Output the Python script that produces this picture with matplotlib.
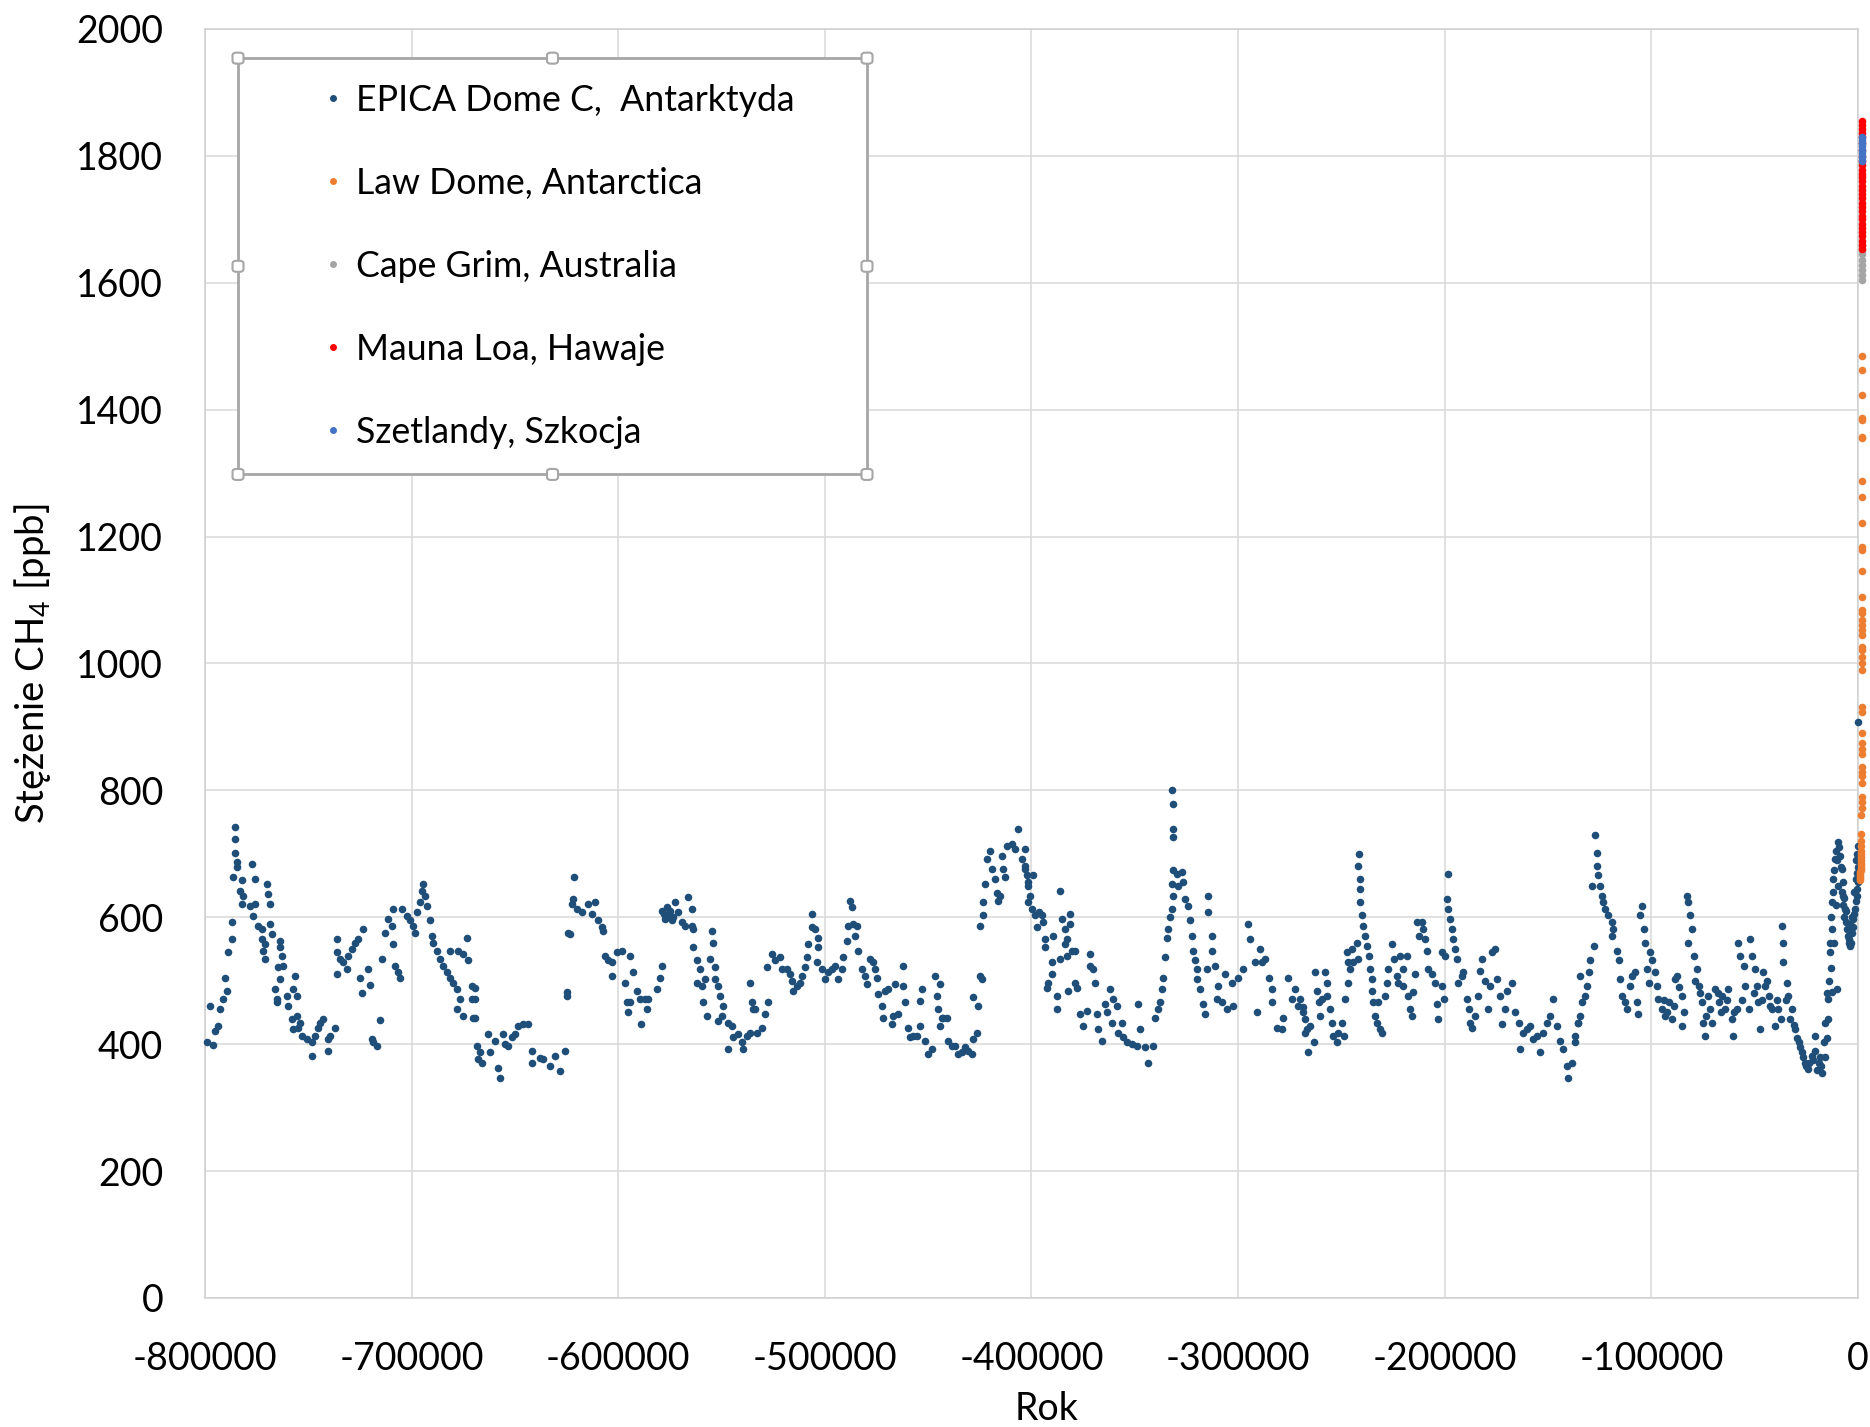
import numpy as np
import matplotlib
matplotlib.use('Agg')
import matplotlib.pyplot as plt
from matplotlib.lines import Line2D
from matplotlib.patches import FancyBboxPatch

plt.rcParams['font.family'] = ['Lato', 'DejaVu Sans']
plt.rcParams['axes.unicode_minus'] = False
plt.rcParams['mathtext.fontset'] = 'custom'
plt.rcParams['mathtext.rm'] = 'Lato'
plt.rcParams['mathtext.it'] = 'Lato:italic'

# EPICA Dome C: (wiek w tys. lat, CH4 ppb)
epica = [
    (-799.0, 403), (-796.0, 398), (-797.6, 460), (-795.0, 421), (-793.5, 429), (-792.7, 455), (-791.1, 471),
    (-789.5, 484), (-790.3, 505), (-788.7, 545), (-787.0, 565), (-787.0, 592), (-785.5, 743), (-785.5, 723),
    (-785.5, 702), (-784.7, 687), (-784.7, 679), (-786.3, 663), (-782.2, 658), (-783.0, 642), (-781.4, 634),
    (-782.2, 621), (-777.4, 684), (-775.8, 660), (-770.1, 652), (-769.3, 637), (-768.5, 621), (-778.2, 618),
    (-775.8, 621), (-776.6, 602), (-774.2, 587), (-772.6, 581), (-772.6, 566), (-771.0, 558), (-771.8, 547),
    (-771.0, 534), (-768.5, 589), (-767.7, 574), (-763.7, 563), (-763.7, 553), (-762.9, 539), (-764.5, 521),
    (-762.1, 524), (-763.7, 503), (-766.1, 487), (-765.3, 471), (-765.3, 466), (-760.5, 476), (-759.7, 460),
    (-756.4, 508), (-757.2, 487), (-755.6, 476), (-758.0, 439), (-755.6, 445), (-754.0, 434), (-757.2, 424),
    (-754.8, 426), (-753.2, 413), (-750.8, 408), (-748.4, 403), (-748.4, 382), (-746.8, 413), (-745.1, 426),
    (-744.3, 434), (-742.7, 439), (-740.3, 408), (-739.5, 413), (-740.3, 390), (-737.1, 426), (-736.3, 565),
    (-736.3, 545), (-734.7, 534), (-736.3, 510), (-733.0, 529), (-731.4, 518), (-730.6, 539), (-729.0, 550),
    (-727.4, 560), (-725.8, 566), (-723.4, 582), (-725.0, 505), (-724.2, 481), (-721.0, 518), (-720.1, 493),
    (-719.3, 408), (-718.5, 403), (-716.9, 397), (-715.3, 438), (-714.5, 534), (-712.9, 576), (-711.3, 597),
    (-709.6, 587), (-708.8, 558), (-708.0, 524), (-706.4, 513), (-705.6, 505), (-708.8, 613), (-704.8, 613),
    (-702.4, 602), (-700.8, 595), (-699.2, 587), (-698.4, 576), (-697.6, 608), (-696.0, 624), (-694.3, 652),
    (-695.1, 642), (-693.5, 634), (-692.7, 618), (-691.1, 595), (-690.3, 571), (-689.5, 560), (-687.9, 547),
    (-686.3, 534), (-684.6, 524), (-683.0, 513), (-681.4, 505), (-679.8, 497), (-678.2, 487), (-676.6, 471),
    (-678.2, 455), (-675.0, 445), (-681.4, 547), (-677.4, 547), (-675.0, 542), (-673.4, 568), (-672.6, 532),
    (-671.0, 492), (-671.0, 471), (-670.1, 442), (-668.5, 397), (-667.7, 376),
    (-669.3, 489), (-669.3, 471), (-669.3, 442), (-666.9, 387), (-666.1, 371), (-662.8, 416), (-662.0, 387),
    (-659.6, 405), (-658.0, 363), (-657.2, 347), (-655.6, 416), (-654.8, 400), (-653.2, 397), (-651.6, 411),
    (-649.9, 416), (-648.3, 429), (-645.9, 432), (-643.5, 432), (-641.9, 389), (-641.9, 371), (-637.8, 379),
    (-636.2, 376), (-633.0, 366), (-630.6, 381), (-628.2, 358), (-625.7, 389), (-624.9, 482), (-624.9, 476),
    (-624.1, 576), (-623.5, 574), (-621.2, 663), (-621.7, 629), (-622.5, 621), (-620.1, 613), (-617.7, 608),
    (-614.5, 621), (-611.2, 624), (-612.9, 605), (-609.6, 595), (-608.0, 584), (-607.2, 579), (-606.4, 539),
    (-604.8, 532), (-603.2, 529), (-603.2, 507), (-600.8, 545), (-598.3, 547), (-594.3, 539), (-592.7, 513),
    (-596.7, 497), (-595.9, 466), (-594.3, 466), (-595.1, 450), (-591.1, 484), (-589.5, 471), (-587.0, 471),
    (-585.4, 471), (-586.2, 455), (-589.1, 432), (-581.4, 487), (-579.8, 505), (-579.0, 524), (-579.0, 610),
    (-576.5, 616), (-577.4, 597), (-575.7, 602), (-574.1, 595), (-572.5, 624), (-570.9, 608), (-569.3, 592),
    (-567.7, 587), (-566.1, 632), (-564.5, 613), (-563.7, 582), (-564.5, 587), (-578.0, 605), (-576.0, 600),
    (-574.8, 610), (-573.3, 600), (-563.7, 553), (-562.0, 532), (-562.0, 497), (-560.4, 518), (-559.6, 492),
    (-558.0, 503), (-558.8, 466), (-557.2, 445), (-555.6, 534), (-554.8, 579), (-554.0, 560), (-553.2, 521),
    (-553.2, 503), (-551.6, 492), (-550.7, 476), (-549.9, 445), (-549.1, 460), (-551.6, 437), (-546.7, 434),
    (-545.1, 429), (-546.7, 392), (-544.3, 411), (-541.9, 416), (-540.3, 403), (-539.5, 392), (-537.8, 413),
    (-536.2, 497), (-535.4, 466), (-534.6, 455),
    (-533.8, 455), (-530.6, 426), (-528.9, 447), (-527.3, 466), (-533.0, 418), (-536.2, 418), (-528.1, 521),
    (-525.7, 542), (-524.1, 532), (-521.7, 537), (-520.9, 518), (-518.5, 518), (-516.8, 510), (-516.0, 500),
    (-515.2, 484), (-513.6, 492), (-512.0, 497), (-511.2, 508), (-509.6, 521), (-508.8, 537), (-508.0, 558),
    (-506.4, 584), (-506.4, 605), (-504.7, 581), (-503.1, 568), (-503.1, 553), (-503.9, 529), (-501.5, 518),
    (-499.9, 503), (-498.3, 513), (-496.7, 518), (-495.1, 524), (-493.4, 503), (-491.8, 518), (-491.0, 537),
    (-489.4, 563), (-488.6, 587), (-487.8, 626), (-487.0, 616), (-486.2, 589), (-484.6, 587), (-485.4, 571),
    (-483.8, 547), (-482.2, 518), (-480.6, 508), (-479.8, 495), (-478.1, 534), (-476.5, 529), (-475.7, 518),
    (-474.9, 505), (-474.1, 479), (-472.5, 460), (-471.7, 442), (-470.9, 484), (-469.3, 487), (-467.6, 432),
    (-466.8, 445), (-466.0, 495), (-464.4, 447), (-462.0, 492), (-461.2, 466), (-462.0, 524), (-459.6, 426),
    (-458.8, 411), (-457.2, 413), (-455.6, 413), (-453.9, 429), (-453.9, 468), (-453.1, 487), (-451.5, 405),
    (-449.9, 384), (-448.3, 392), (-446.7, 508), (-445.9, 476), (-445.1, 455), (-444.3, 495), (-444.3, 429),
    (-443.5, 442), (-442.7, 442), (-441.1, 442), (-440.2, 405), (-438.6, 397), (-437.0, 397), (-435.4, 384),
    (-433.8, 387), (-432.2, 395), (-430.6, 389), (-429.0, 384), (-428.1, 408), (-426.5, 418), (-428.1, 474),
    (-425.7, 460), (-424.9, 508), (-424.1, 503), (-424.9, 587), (-423.3, 603), (-423.3, 624), (-422.5, 652),
    (-421.7, 692), (-420.1, 705), (-419.3, 676), (-417.6, 660), (-416.8, 639), (-416.0, 626), (-415.2, 634),
    (-413.6, 676), (-412.8, 663), (-414.4, 697), (-412.0, 713), (-409.6, 716), (-408.0, 708), (-406.4, 739),
    (-404.7, 692), (-403.1, 676), (-401.5, 655), (-401.5, 624),
    (-403.1, 708), (-403.1, 681), (-402.3, 666), (-401.5, 650), (-400.7, 634), (-399.1, 666), (-399.9, 613),
    (-398.3, 603), (-396.6, 608), (-395.0, 603), (-394.2, 592), (-397.5, 584), (-393.4, 566), (-393.4, 553),
    (-389.4, 571), (-390.2, 529), (-390.2, 510), (-391.8, 497), (-392.6, 489), (-387.8, 476), (-387.8, 455),
    (-386.2, 642), (-385.4, 597), (-383.7, 581), (-382.9, 566), (-383.7, 558), (-381.3, 605), (-381.3, 589),
    (-380.5, 547), (-378.9, 547), (-386.2, 534), (-382.9, 539), (-382.1, 484), (-378.9, 497), (-378.1, 489),
    (-376.5, 447), (-374.9, 429), (-373.3, 453), (-371.6, 542), (-371.6, 524), (-370.0, 518), (-369.2, 497),
    (-368.4, 447), (-367.6, 424), (-366.0, 405), (-364.4, 463), (-363.6, 450), (-362.0, 487), (-361.2, 434),
    (-360.4, 471), (-358.7, 460), (-357.9, 418), (-356.3, 434), (-355.5, 411), (-353.9, 403), (-351.5, 400),
    (-349.1, 397), (-347.5, 424), (-348.3, 463), (-345.0, 395), (-343.4, 371), (-341.0, 397), (-340.2, 442),
    (-338.6, 455), (-337.8, 466), (-337.0, 487), (-336.2, 505), (-335.4, 537), (-334.5, 568), (-333.7, 581),
    (-332.9, 600), (-332.1, 613), (-331.3, 634), (-332.1, 652), (-331.3, 674), (-332.1, 800), (-331.3, 779),
    (-331.3, 739), (-331.3, 726), (-329.7, 668), (-328.9, 650), (-327.3, 671), (-326.5, 655), (-325.7, 629),
    (-324.1, 618), (-323.3, 595), (-322.5, 571), (-321.6, 547), (-320.8, 532), (-320.0, 518), (-320.0, 503),
    (-318.4, 487), (-316.8, 463), (-316.0, 447), (-314.4, 634), (-314.4, 608), (-315.2, 518), (-312.8, 571),
    (-312.8, 547), (-311.2, 524), (-309.5, 492), (-310.3, 471), (-307.9, 466), (-306.3, 510), (-305.5, 455),
    (-303.1, 497), (-302.3, 460), (-299.9, 505), (-297.4, 518), (-295.0, 589), (-294.2, 566), (-291.8, 529),
    (-291.0, 450), (-289.4, 550), (-288.6, 529), (-286.9, 534), (-285.3, 505), (-283.7, 487), (-283.7, 466),
    (-281.3, 426), (-278.9, 424), (-278.1, 442), (-275.7, 505), (-274.1, 471), (-272.4, 487), (-270.8, 460),
    (-268.4, 450), (-267.6, 418),
    (-270.0, 471), (-268.4, 458), (-267.6, 439), (-266.8, 424), (-265.2, 429), (-266.0, 387), (-263.5, 403),
    (-262.7, 513), (-261.9, 484), (-261.1, 466), (-260.3, 445), (-259.5, 471), (-257.9, 513), (-257.1, 497),
    (-257.1, 476), (-255.5, 455), (-254.7, 434), (-253.9, 413), (-252.3, 403), (-251.5, 418), (-249.8, 434),
    (-249.0, 413), (-248.2, 471), (-246.6, 497), (-246.6, 529), (-247.4, 545), (-245.8, 518), (-245.0, 550),
    (-244.2, 529), (-242.6, 560), (-241.8, 534), (-241.8, 681), (-241.3, 700), (-241.0, 660), (-241.0, 645),
    (-241.0, 624), (-240.2, 603), (-239.4, 587), (-238.5, 571), (-237.7, 555), (-236.9, 539), (-236.1, 518),
    (-235.3, 503), (-235.3, 484), (-234.5, 466), (-233.7, 445), (-232.9, 434), (-231.3, 424), (-230.5, 418),
    (-232.1, 466), (-228.9, 476), (-228.1, 497), (-227.3, 518), (-225.6, 558), (-224.8, 534), (-223.2, 508),
    (-222.4, 497), (-221.6, 539), (-220.0, 518), (-220.0, 492), (-218.4, 539), (-217.6, 476), (-216.8, 455),
    (-216.0, 445), (-215.2, 482), (-214.4, 510), (-213.5, 592), (-212.7, 571), (-211.1, 592), (-210.3, 581),
    (-209.5, 566), (-208.7, 547), (-207.9, 518), (-206.3, 510), (-204.7, 497), (-203.9, 463), (-203.1, 439),
    (-201.4, 492), (-201.4, 545), (-200.6, 471), (-199.8, 539), (-199.0, 629), (-198.2, 668), (-198.2, 613),
    (-197.4, 597), (-196.6, 581), (-195.8, 566), (-195.0, 550), (-194.2, 534), (-193.4, 497), (-191.8, 508),
    (-191.0, 513), (-189.3, 471), (-188.5, 455), (-187.7, 434), (-186.9, 426), (-185.3, 445), (-183.7, 476),
    (-182.9, 516), (-182.1, 534), (-180.5, 500), (-178.9, 455), (-178.1, 492), (-177.3, 545), (-175.6, 550),
    (-174.8, 503), (-173.2, 476), (-172.4, 432), (-170.8, 455), (-170.0, 484), (-167.6, 497), (-166.0, 450),
    (-164.3, 434), (-163.5, 392), (-161.9, 418), (-160.3, 424), (-158.7, 429), (-157.1, 408), (-155.5, 413),
    (-153.9, 387), (-152.3, 418), (-150.6, 434), (-149.0, 445), (-147.4, 471), (-145.8, 429), (-144.2, 405),
    (-142.6, 392), (-141.0, 366), (-140.2, 347), (-138.5, 371), (-136.9, 403), (-135.3, 434), (-134.5, 508),
    (-136.9, 413), (-135.3, 434), (-134.5, 445), (-133.7, 466), (-132.1, 476), (-131.3, 492), (-130.4, 513),
    (-129.6, 532), (-128.0, 555), (-128.8, 650), (-127.2, 729), (-126.4, 702), (-126.4, 681), (-125.6, 666),
    (-124.8, 650), (-124.0, 634), (-123.2, 624), (-122.4, 613), (-120.8, 603), (-119.2, 592), (-118.4, 581),
    (-119.2, 571), (-116.7, 547), (-115.9, 532), (-115.1, 503), (-114.3, 476), (-112.7, 466), (-111.9, 455),
    (-110.3, 492), (-109.5, 508), (-107.9, 513), (-107.1, 466), (-106.3, 447), (-105.4, 603), (-104.6, 618),
    (-103.8, 581), (-103.0, 560), (-102.2, 518), (-101.4, 497), (-100.6, 545), (-99.8, 532), (-98.2, 513),
    (-97.4, 492), (-96.6, 471), (-95.0, 455), (-93.3, 445), (-91.7, 466), (-90.1, 439), (-88.5, 503),
    (-87.7, 508), (-85.3, 476), (-85.3, 429), (-82.9, 634), (-82.1, 624), (-81.3, 603), (-80.4, 581),
    (-82.1, 560), (-79.6, 539), (-78.0, 518), (-77.2, 492), (-75.6, 466), (-74.8, 434), (-74.0, 413),
    (-72.4, 476), (-70.8, 434), (-69.2, 487), (-67.5, 466), (-65.9, 476), (-64.3, 455), (-62.7, 487),
    (-61.1, 439), (-60.3, 413), (-58.7, 455), (-57.9, 560), (-57.1, 539), (-55.4, 524), (-54.6, 492),
    (-53.0, 455), (-52.2, 566), (-51.4, 539), (-49.8, 518), (-49.0, 492), (-48.2, 466), (-47.4, 424),
    (-45.8, 513), (-45.0, 492), (-43.3, 476), (-41.7, 455), (-40.1, 429), (-38.5, 455), (-36.9, 587),
    (-36.1, 560), (-36.1, 529), (-34.5, 497), (-33.7, 476), (-32.0, 455), (-30.4, 424), (-28.8, 403),
    (-27.2, 387), (-25.6, 371), (-24.0, 361), (-22.4, 382), (-20.8, 413), (-19.1, 371), (-17.5, 355),
    (-16.7, 403), (-15.9, 434), (-14.3, 471), (-12.7, 482), (-10.3, 487), (-13.5, 560), (-12.7, 581),
    (-12.7, 624), (-11.9, 660), (-11.1, 692), (-9.5, 718), (-8.7, 697), (-7.9, 676), (-7.1, 634),
    (-6.3, 613), (-5.5, 581), (-4.6, 560), (-3.8, 555), (-3.0, 576), (-2.2, 597), (-1.4, 613),
    (-0.6, 634), (-0.1, 655), (-0.3, 700), (-0.2, 712), (-0.1, 908),
    (-13.0, 600), (-12.2, 640), (-11.5, 675), (-10.7, 705), (-10.0, 690), (-9.0, 710), (-8.3, 680),
    (-7.5, 655), (-7.5, 620), (-6.7, 600), (-6.0, 592), (-5.0, 570), (-4.2, 565), (-3.4, 560),
    (-2.6, 585), (-1.8, 605), (-1.0, 625), (-0.4, 645), (-0.2, 680), (-13.8, 545), (-14.0, 500),
    (-13.2, 520), (-14.8, 480), (-11.5, 560), (-10.5, 620), (-9.8, 650), (-8.0, 640), (-6.8, 630),
    (-5.8, 610), (-4.0, 590), (-3.0, 600), (-2.0, 640), (-1.2, 660), (-0.8, 690), (-0.5, 670),
    (-29.5, 410), (-28.0, 395), (-26.5, 380), (-25.0, 365), (-23.5, 370), (-22.0, 375), (-21.0, 390),
    (-20.0, 360), (-18.5, 380), (-18.0, 365), (-16.2, 380), (-15.0, 410), (-14.6, 440), (-31.0, 430),
    (-33.0, 440), (-35.0, 470), (-37.5, 440), (-39.0, 470), (-42.5, 460), (-44.0, 500), (-46.5, 470),
    (-50.5, 480), (-56.0, 470), (-60.0, 450), (-63.5, 470), (-66.5, 450), (-68.0, 480), (-71.5, 455),
    (-73.5, 445), (-76.5, 480), (-79.0, 500), (-84.0, 450), (-86.5, 490), (-89.0, 460), (-92.5, 450),
    (-94.0, 470),
]
epica_age = np.array([p[0] for p in epica]) * 1000
epica_ch4 = np.array([p[1] for p in epica])

# Law Dome (rok n.e., ppb)
law_year = [1008, 1050, 1090, 1130, 1170, 1210, 1250, 1290, 1330, 1370, 1410, 1450, 1490, 1530,
            1570, 1610, 1650, 1690, 1730, 1760, 1790, 1810, 1830, 1845, 1858, 1866, 1874, 1885,
            1895, 1900, 1910, 1915, 1920, 1925, 1928, 1935, 1938, 1940, 1943, 1946, 1948, 1951,
            1955, 1959, 1960, 1963, 1966, 1968, 1970, 1971, 1974, 1975, 1977, 1979, 1980]
law_ch4 = [659, 662, 665, 668, 672, 675, 678, 682, 686, 690, 695, 700, 705, 712, 720, 732, 761,
           772, 782, 790, 811, 822, 829, 837, 858, 866, 874, 890, 924, 932, 990, 1000, 1011,
           1021, 1026, 1045, 1053, 1061, 1069, 1079, 1084, 1105, 1145, 1179, 1184, 1221, 1263,
           1287, 1355, 1357, 1384, 1387, 1423, 1463, 1484]

# Cape Grim
grim_year = [1984, 1985, 1986, 1987, 1988, 1989, 1990, 1991]
grim_ch4 = [1604, 1612, 1620, 1628, 1636, 1645, 1652, 1660]

# Mauna Loa
mlo_year = list(range(1984, 2014))
mlo_ch4 = [1654, 1660, 1666, 1673, 1680, 1686, 1693, 1700, 1706, 1713, 1720, 1726, 1733, 1740,
           1746, 1753, 1760, 1766, 1772, 1778, 1785, 1792, 1800, 1810, 1820, 1830, 1836, 1842,
           1848, 1855]

# Szetlandy
shet_year = [1993, 1994, 1995, 1996, 1997, 1998, 1999, 2000]
shet_ch4 = [1792, 1798, 1804, 1810, 1815, 1820, 1825, 1830]

series = [
    ('EPICA Dome C,  Antarktyda', epica_age, epica_ch4, '#1F4E79'),
    ('Law Dome, Antarctica', law_year, law_ch4, '#ED7D31'),
    ('Cape Grim, Australia', grim_year, grim_ch4, '#A5A5A5'),
    ('Mauna Loa, Hawaje', mlo_year, mlo_ch4, '#FF0000'),
    ('Szetlandy, Szkocja', shet_year, shet_ch4, '#4472C4'),
]

fig = plt.figure(figsize=(18.7, 14.27), dpi=100)
ax = fig.add_axes([0.1096, 0.0904, 0.8840, 0.8893])

for i, (name, xs, ys, col) in enumerate(series):
    ax.scatter(xs, ys, s=30, color=col, linewidths=0, clip_on=False, zorder=3 + i)

ax.set_xlim(-800000, 0)
ax.set_ylim(0, 2000)
ax.set_xticks(np.arange(-800000, 1, 100000))
ax.set_yticks(np.arange(0, 2001, 200))
ax.grid(True, color='#D9D9D9', linewidth=1.1)
ax.set_axisbelow(True)
for sp in ax.spines.values():
    sp.set_color('#D0D0D0')
    sp.set_linewidth(1.1)
ax.tick_params(length=0, labelsize=27, colors='black')
ax.tick_params(axis='y', pad=30)
ax.tick_params(axis='x', pad=31)

ax.set_ylabel('Stężenie CH$_4$ [ppb]', fontsize=27.5)
ax.yaxis.set_label_coords(-0.092, 0.5)
ax.set_xlabel('Rok', fontsize=27)
ax.xaxis.set_label_coords(0.509, -0.073)
ax.xaxis.label.set_va('top')

handles = [Line2D([], [], marker='o', ls='none', color=c, markersize=4) for _, _, _, c in series]
labels = [s[0] for s in series]
leg = ax.legend(handles, labels, loc='upper left', bbox_to_anchor=(0.020, 0.648, 0.3805, 0.329),
                mode='expand', borderaxespad=0, fontsize=25.7, fancybox=False, framealpha=1,
                edgecolor='#A6A6A6', borderpad=0.72, labelspacing=1.40, handlelength=3.9,
                handletextpad=-1.32)
leg.get_frame().set_linewidth(2)
leg.set_zorder(10)

# uchwyty zaznaczenia ramki legendy (jak w Excelu)
fig.canvas.draw()
bb = leg.get_frame().get_window_extent()
inv = fig.transFigure.inverted()
hs = 11
for px in (bb.x0, (bb.x0 + bb.x1) / 2, bb.x1):
    for py in (bb.y0, (bb.y0 + bb.y1) / 2, bb.y1):
        if px == (bb.x0 + bb.x1) / 2 and py == (bb.y0 + bb.y1) / 2:
            continue
        (fx, fy) = inv.transform((px - hs / 2, py - hs / 2))
        (fx2, fy2) = inv.transform((px + hs / 2, py + hs / 2))
        fig.add_artist(FancyBboxPatch((fx, fy), fx2 - fx, fy2 - fy,
                                      boxstyle='round,pad=0,rounding_size=0.002',
                                      transform=fig.transFigure, facecolor='white',
                                      edgecolor='#A6A6A6', linewidth=1.5, zorder=20))

fig.savefig('out.png', dpi=100)
